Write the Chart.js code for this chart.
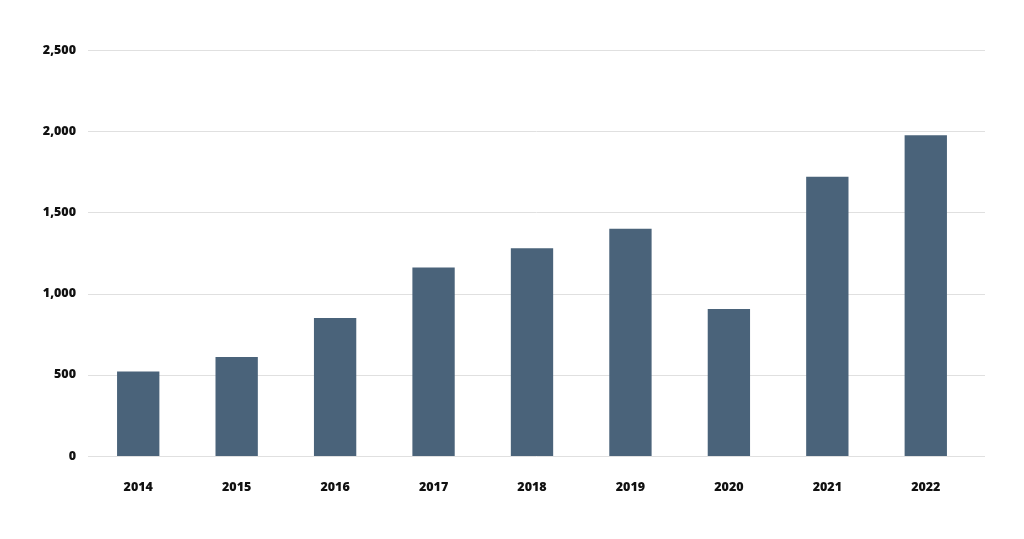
<!DOCTYPE html>
<html>
<head>
<meta charset="utf-8">
<script src="https://cdn.jsdelivr.net/npm/chart.js@4"></script>
<style>
html,body{margin:0;padding:0;background:#fff;}
#wrap{width:1024px;height:539px;position:relative;}
</style>
</head>
<body>
<div id="wrap"><canvas id="c" width="1024" height="539"></canvas></div>
<script>
const categories = ["2014","2015","2016","2017","2018","2019","2020","2021","2022"];
const values = [520, 610, 850, 1160, 1280, 1400, 905, 1720, 1975];
const yTicks = [0, 500, 1000, 1500, 2000, 2500];

const extendedGrid = {
  id: 'extendedGrid',
  beforeDatasetsDraw(chart) {
    const { ctx, chartArea, scales } = chart;
    ctx.save();
    ctx.strokeStyle = '#e0e0e0';
    ctx.lineWidth = 1;
    scales.y.ticks.forEach(t => {
      const y = Math.round(scales.y.getPixelForValue(t.value)) + 0.5;
      ctx.beginPath();
      ctx.moveTo(chartArea.left - 1, y);
      ctx.lineTo(chartArea.right + 10, y);
      ctx.stroke();
    });
    ctx.restore();
  }
};

new Chart(document.getElementById('c'), {
  type: 'bar',
  data: {
    labels: categories,
    datasets: [{
      data: values,
      backgroundColor: '#4a637a',
      borderWidth: 0,
      barPercentage: 0.43,
      categoryPercentage: 1.0
    }]
  },
  options: {
    responsive: false,
    animation: false,
    layout: { padding: { top: 50, right: 49, bottom: 0, left: 0 } },
    plugins: { legend: { display: false }, tooltip: { enabled: false } },
    scales: {
      x: {
        grid: { display: false, drawTicks: false },
        border: { display: false },
        afterFit: (axis) => { axis.height = 83; },
        ticks: {
          color: '#111',
          padding: 24,
          font: { family: 'Open Sans', size: 12.5, weight: '800' }
        }
      },
      y: {
        min: yTicks[0],
        max: yTicks[yTicks.length - 1],
        afterBuildTicks: (axis) => { axis.ticks = yTicks.map(v => ({ value: v })); },
        afterFit: (axis) => { axis.width = 89; },
        grid: { display: false, drawTicks: false },
        border: { display: false },
        ticks: {
          color: '#111',
          padding: 13,
          font: { family: 'Open Sans', size: 12.5, weight: '800' },
          callback: (v) => v.toLocaleString('en-US')
        }
      }
    }
  },
  plugins: [extendedGrid]
});
</script>
</body>
</html>
